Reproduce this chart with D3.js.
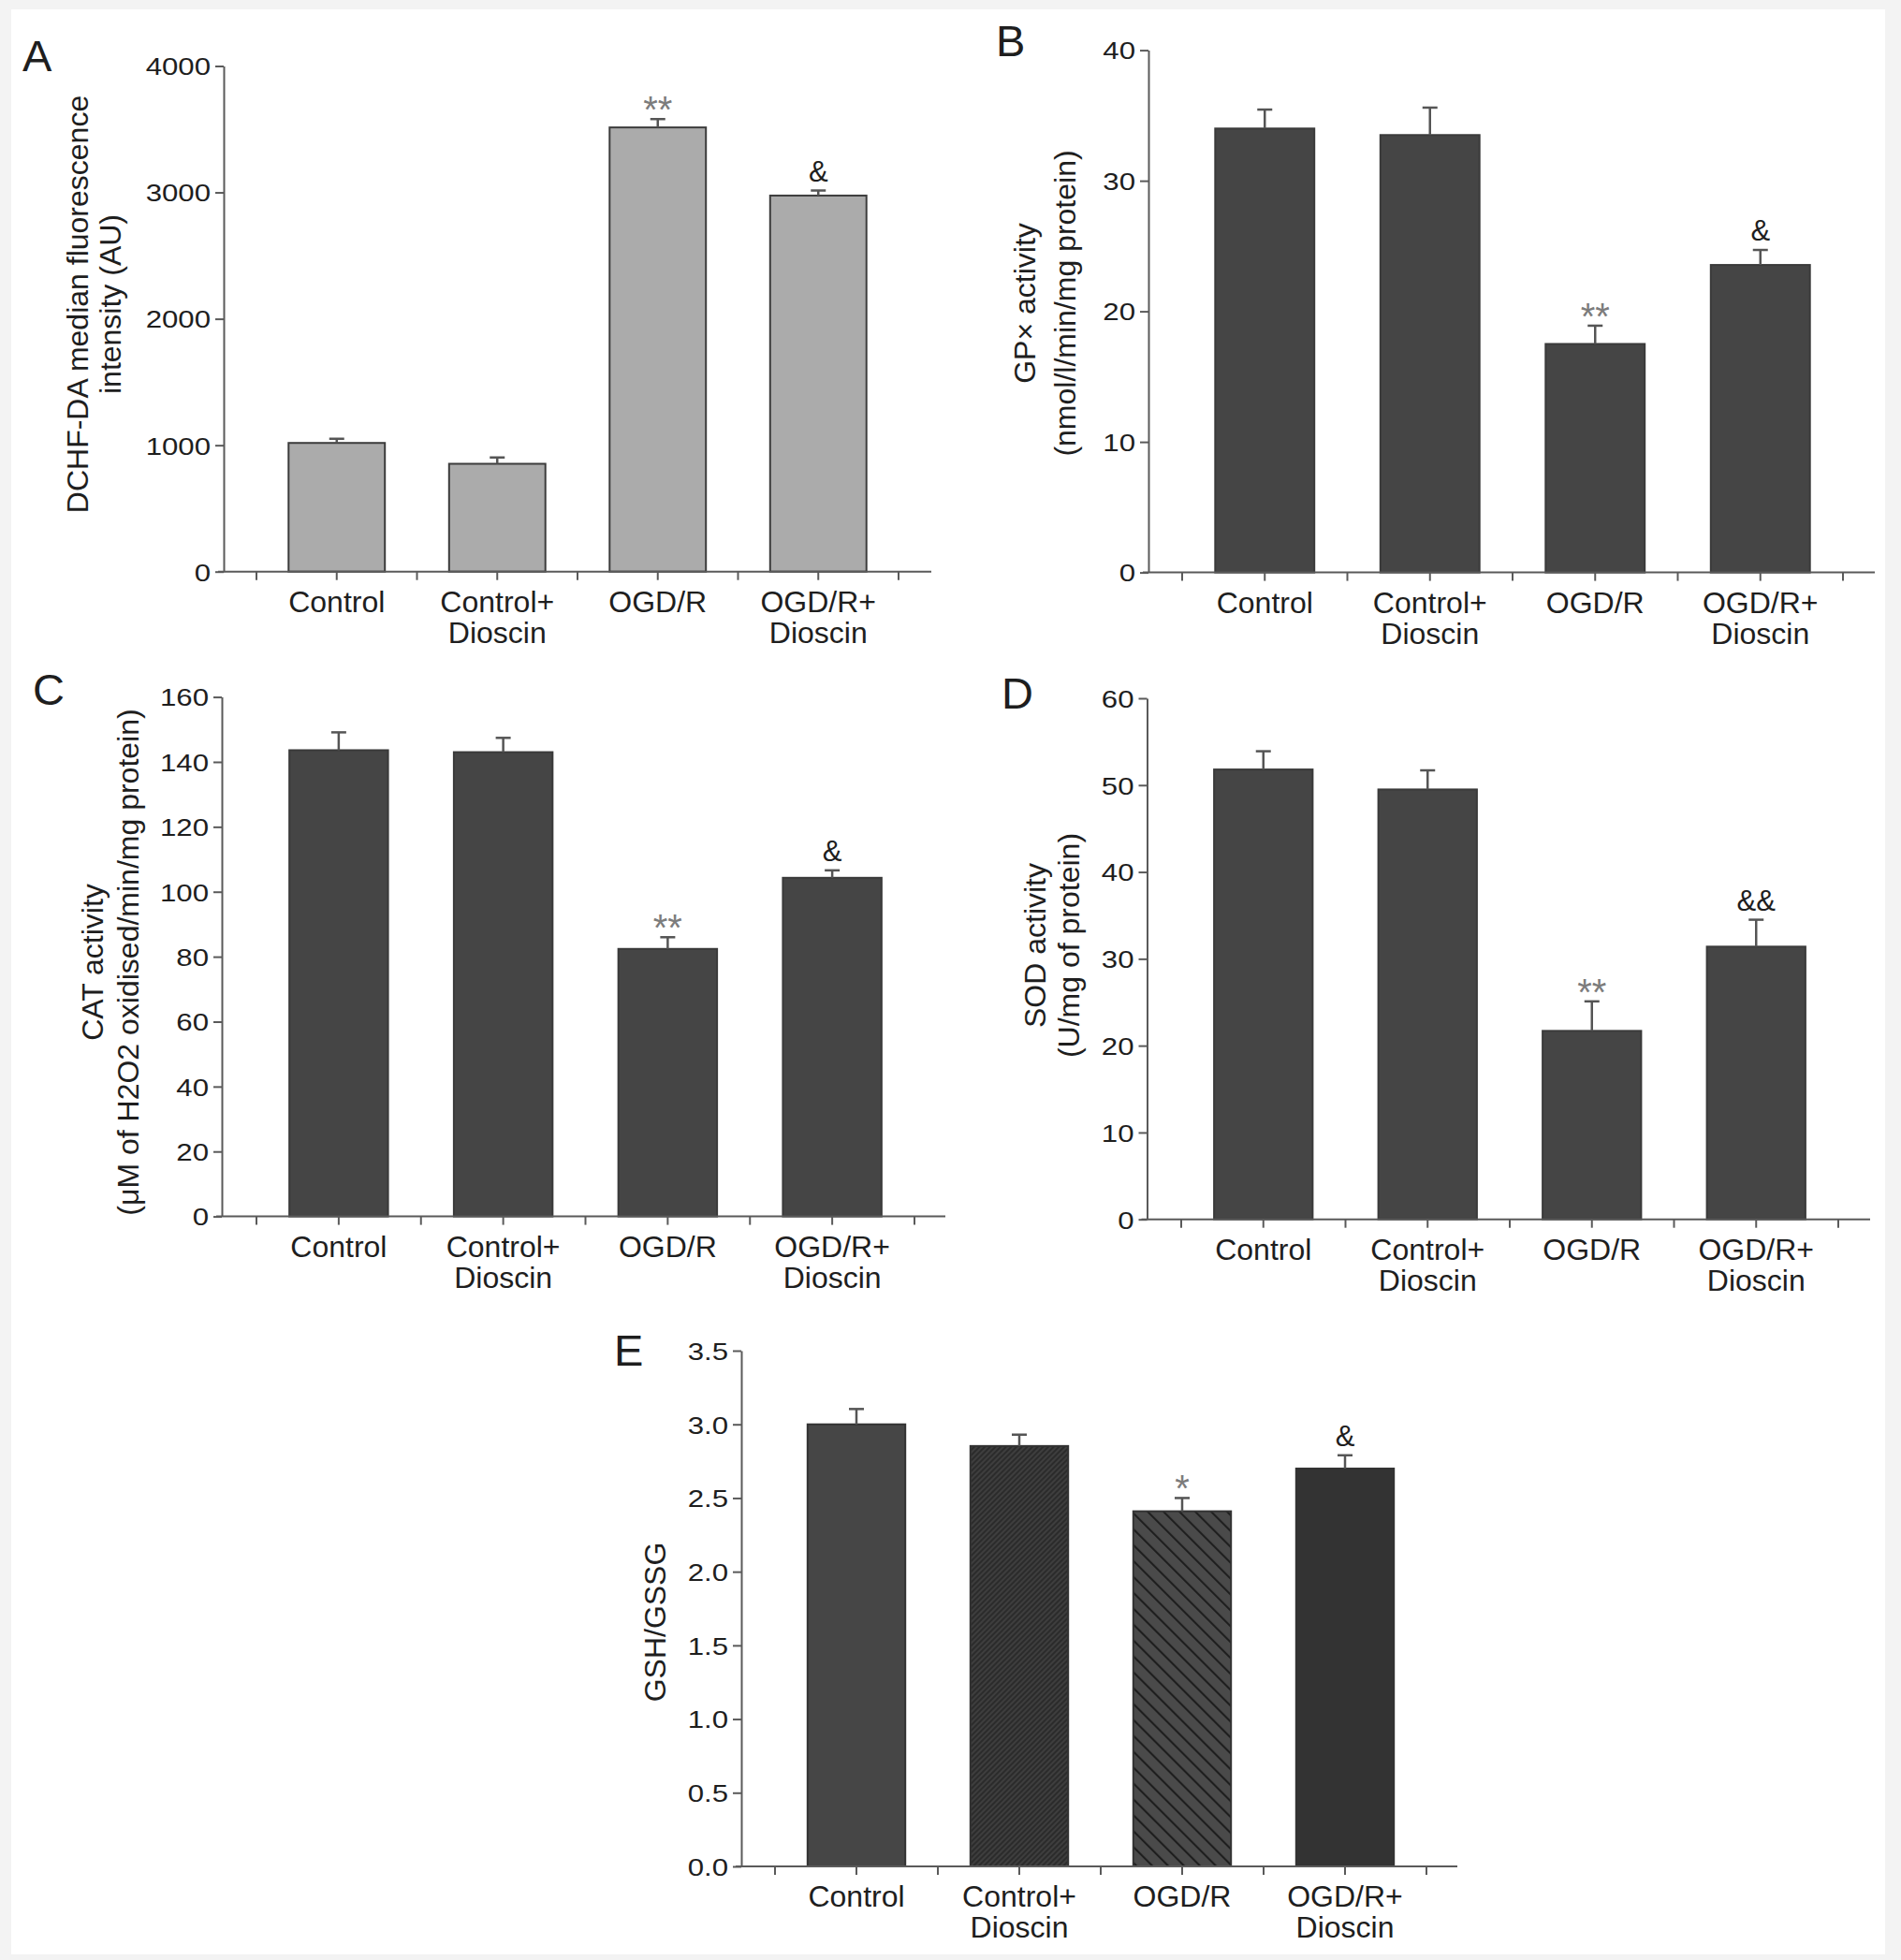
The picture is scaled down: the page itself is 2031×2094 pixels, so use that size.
<!DOCTYPE html>
<html>
<head>
<meta charset="utf-8">
<script src="https://cdn.jsdelivr.net/npm/d3@7"></script>
<style>
  body { margin: 0; background: #f3f3f3; }
  svg { display: block; }
  text { font-family: "Liberation Sans", Arial, Helvetica, sans-serif; fill: #1e1e1e; }
</style>
</head>
<body>
<div id="vizcontainer"></div>
<script>
const groups = ['Control', 'Control+ Dioscin', 'OGD/R', 'OGD/R+ Dioscin'];

// A: DCHF-DA
const dchfTicks = [0, 1000, 2000, 3000, 4000],
  dchfMean = [1018, 853, 3514, 2975],
  dchfErr = [33, 50, 66, 40],
  dchfSig = ['', '', '**', '&'];

// B: GPx
const gpxTicks = [0, 10, 20, 30, 40],
  gpxMean = [34.0, 33.5, 17.5, 23.55],
  gpxErr = [1.45, 2.1, 1.4, 1.15],
  gpxSig = ['', '', '**', '&'];

// C: CAT
const catTicks = [0, 20, 40, 60, 80, 100, 120, 140, 160],
  catMean = [143.6, 143.0, 82.4, 104.3],
  catErr = [5.5, 4.4, 3.6, 2.3],
  catSig = ['', '', '**', '&'];

// D: SOD
const sodTicks = [0, 10, 20, 30, 40, 50, 60],
  sodMean = [51.8, 49.5, 21.7, 31.4],
  sodErr = [2.1, 2.2, 3.4, 3.1],
  sodSig = ['', '', '**', '&&'];

// E: GSH/GSSG
const gshTicks = [0, 0.5, 1.0, 1.5, 2.0, 2.5, 3.0, 3.5],
  gshMean = [3.0, 2.853, 2.41, 2.70],
  gshErr = [0.104, 0.077, 0.09, 0.09],
  gshSig = ['', '', '*', '&'];

const
  width = 2031,
  height = 2094,
  axisColor = '#5a5a5a',
  light = '#ababab',
  dark = '#454545';

const svg = d3.select('#vizcontainer')
  .append('svg')
  .attr('width', width)
  .attr('height', height);

svg.append('rect').attr('width', width).attr('height', height).attr('fill', '#f3f3f3');
svg.append('rect').attr('x', 12).attr('y', 10).attr('width', 2002).attr('height', 2078).attr('fill', '#fff');

const defs = svg.append('defs');
const fine = defs.append('pattern').attr('id', 'fineHatch')
  .attr('patternUnits', 'userSpaceOnUse').attr('width', 4).attr('height', 4)
  .attr('patternTransform', 'rotate(45)');
fine.append('rect').attr('width', 4).attr('height', 4).attr('fill', '#3e3e3e');
fine.append('line').attr('x1', 1).attr('x2', 1).attr('y1', 0).attr('y2', 4)
  .attr('stroke', '#262626').attr('stroke-width', 1.6);

const wide = defs.append('pattern').attr('id', 'wideHatch')
  .attr('patternUnits', 'userSpaceOnUse').attr('width', 12).attr('height', 12)
  .attr('patternTransform', 'rotate(-45)');
wide.append('rect').attr('width', 12).attr('height', 12).attr('fill', '#4a4a4a');
wide.append('line').attr('x1', 1).attr('x2', 1).attr('y1', 0).attr('y2', 12)
  .attr('stroke', '#1e1e1e').attr('stroke-width', 2.2);

const panels = [
  {
    letter: 'A', lx: 24, ly: 76,
    mean: dchfMean, err: dchfErr, sig: dchfSig, ticks: dchfTicks, fmt: d3.format('d'),
    title: ['DCHF-DA median fluorescence', 'intensity (AU)'], titleX: [83, 118], titleY: 325,
    ax: 239, top: 70.5, bottom: 610.7, band: [274, 960], axEnd: 995,
    fills: [light, light, light, light], stroke: '#3c3c3c'
  },
  {
    letter: 'B', lx: 1064, ly: 60,
    mean: gpxMean, err: gpxErr, sig: gpxSig, ticks: gpxTicks, fmt: d3.format('d'),
    title: ['GP\u00d7 activity', '(nmol/l/min/mg protein)'], titleX: [1095, 1138], titleY: 324,
    ax: 1227, top: 53.6, bottom: 611.6, band: [1263, 1969], axEnd: 2003,
    fills: [dark, dark, dark, dark], stroke: '#3a3a3a'
  },
  {
    letter: 'C', lx: 35, ly: 753,
    mean: catMean, err: catErr, sig: catSig, ticks: catTicks, fmt: d3.format('d'),
    title: ['CAT activity', '(\u03bcM of H2O2 oxidised/min/mg protein)'], titleX: [99, 137], titleY: 1028,
    ax: 237, top: 744.6, bottom: 1299.6, band: [274, 977], axEnd: 1010,
    fills: [dark, dark, dark, dark], stroke: '#3a3a3a'
  },
  {
    letter: 'D', lx: 1070, ly: 757,
    mean: sodMean, err: sodErr, sig: sodSig, ticks: sodTicks, fmt: d3.format('d'),
    title: ['SOD activity', '(U/mg of protein)'], titleX: [1106, 1142], titleY: 1010,
    ax: 1225.5, top: 746, bottom: 1302.7, band: [1262, 1964], axEnd: 1998,
    fills: [dark, dark, dark, dark], stroke: '#3a3a3a'
  },
  {
    letter: 'E', lx: 656, ly: 1459,
    mean: gshMean, err: gshErr, sig: gshSig, ticks: gshTicks, fmt: d3.format('.1f'),
    title: ['GSH/GSSG'], titleX: [700], titleY: 1733,
    ax: 792, top: 1443, bottom: 1994, band: [828, 1524], axEnd: 1557,
    fills: ['#464646', 'url(#fineHatch)', 'url(#wideHatch)', '#333333'], stroke: '#333'
  }
];

panels.forEach(drawPanel);

function drawPanel(p) {
  const g = svg.append('g');

  const y = d3.scaleLinear()
    .domain([0, d3.max(p.ticks)])
    .range([p.bottom, p.top]);

  const x = d3.scaleBand()
    .domain(groups)
    .range(p.band);

  const barW = x.bandwidth() * 0.6;
  const cx = d => x(d) + x.bandwidth() / 2;

  // bars
  g.append('g').selectAll('rect')
    .data(groups)
    .join('rect')
    .attr('x', d => cx(d) - barW / 2)
    .attr('y', (d, i) => y(p.mean[i]))
    .attr('width', barW)
    .attr('height', (d, i) => y(0) - y(p.mean[i]))
    .attr('fill', (d, i) => p.fills[i])
    .attr('stroke', p.stroke)
    .attr('stroke-width', 2);

  // error bars (upper half)
  const eb = g.append('g').attr('stroke', '#555').attr('stroke-width', 2.5);
  eb.selectAll('line.v')
    .data(groups)
    .join('line')
    .attr('class', 'v')
    .attr('x1', cx).attr('x2', cx)
    .attr('y1', (d, i) => y(p.mean[i]))
    .attr('y2', (d, i) => y(p.mean[i] + p.err[i]));
  eb.selectAll('line.cap')
    .data(groups)
    .join('line')
    .attr('class', 'cap')
    .attr('x1', d => cx(d) - 8).attr('x2', d => cx(d) + 8)
    .attr('y1', (d, i) => y(p.mean[i] + p.err[i]))
    .attr('y2', (d, i) => y(p.mean[i] + p.err[i]));

  // significance marks
  g.append('g').selectAll('text')
    .data(groups)
    .join('text')
    .attr('x', cx)
    .attr('y', (d, i) => y(p.mean[i] + p.err[i]) + (p.sig[i].includes('&') ? -10 : 4))
    .attr('text-anchor', 'middle')
    .style('font-size', (d, i) => p.sig[i].includes('&') ? '31px' : '40px')
    .style('fill', (d, i) => p.sig[i].includes('&') ? '#1e1e1e' : '#7c7c7c')
    .text((d, i) => p.sig[i]);

  // y axis
  const yAxis = g.append('g')
    .attr('transform', `translate(${p.ax},0)`)
    .call(d3.axisLeft(y).tickValues(p.ticks).tickFormat(p.fmt).tickSize(9).tickSizeOuter(0));
  yAxis.select('.domain').attr('stroke', axisColor).attr('stroke-width', 2);
  yAxis.selectAll('.tick line').attr('stroke', axisColor).attr('stroke-width', 2);
  yAxis.selectAll('.tick text')
    .attr('x', -14 / 1.2)
    .attr('dy', '0.36em')
    .attr('transform', 'scale(1.2,1)')
    .style('font-size', '26px')
    .style('font-family', '"Liberation Sans", Arial, sans-serif')
    .style('fill', '#1e1e1e');

  // x axis
  g.append('line')
    .attr('x1', p.ax - 6).attr('x2', p.axEnd)
    .attr('y1', y(0)).attr('y2', y(0))
    .attr('stroke', axisColor).attr('stroke-width', 2);

  const xAxis = g.append('g')
    .attr('transform', `translate(0,${y(0)})`)
    .call(d3.axisBottom(x).tickSize(9).tickSizeOuter(0).tickFormat(''));
  xAxis.select('.domain').remove();
  xAxis.selectAll('.tick line').attr('stroke', axisColor).attr('stroke-width', 2);

  const bounds = groups.map(d => x(d)).concat([x.range()[1]]);
  xAxis.selectAll('line.bound')
    .data(bounds)
    .join('line')
    .attr('class', 'bound')
    .attr('x1', d => d).attr('x2', d => d)
    .attr('y1', 0).attr('y2', 9)
    .attr('stroke', axisColor).attr('stroke-width', 2);

  const labels = g.append('g').selectAll('text')
    .data(groups)
    .join('text')
    .attr('text-anchor', 'middle')
    .style('font-size', '32px');
  labels.each(function (d) {
    const t = d3.select(this);
    d.split(' ').forEach((line, k) => {
      t.append('tspan')
        .attr('x', cx(d))
        .attr('y', y(0) + 43 + k * 33)
        .text(line);
    });
  });

  // y title
  p.title.forEach((line, k) => {
    g.append('text')
      .attr('transform', `translate(${p.titleX[k] + 11},${p.titleY}) rotate(-90)`)
      .attr('text-anchor', 'middle')
      .style('font-size', '32px')
      .text(line);
  });

  // panel letter
  g.append('text')
    .attr('x', p.lx)
    .attr('y', p.ly)
    .style('font-size', '47px')
    .text(p.letter);
}
</script>
</body>
</html>
